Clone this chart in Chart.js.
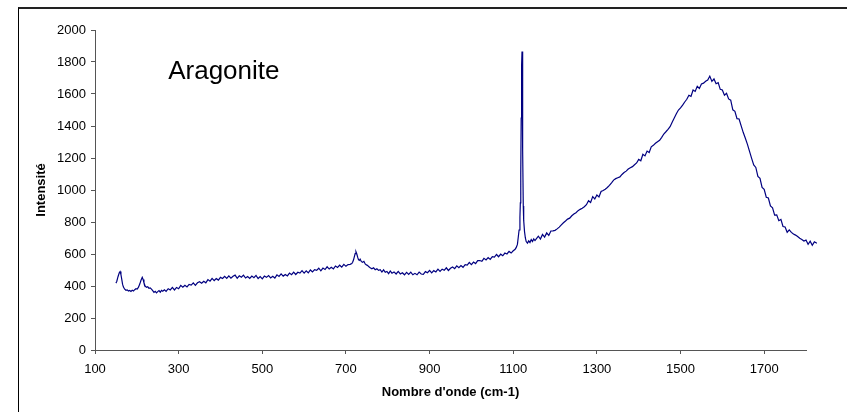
<!DOCTYPE html>
<html><head><meta charset="utf-8">
<script src="https://cdn.jsdelivr.net/npm/chart.js@4"></script>
<style>
html,body{margin:0;padding:0;background:#fff;overflow:hidden}
#wrap{position:relative;width:847px;height:412px;overflow:hidden}
#frame{position:absolute;left:18px;top:7px;width:900px;height:500px;border-top:2px solid #222;border-left:1px solid #000;box-sizing:border-box}
canvas{position:absolute;left:0;top:0}
</style></head><body>
<div id="wrap"><div id="frame"></div><canvas id="c" width="847" height="412"></canvas></div>
<script>
// Spectrum (wavenumber in cm-1, intensity)
const waveA = [150,152,155,158,160,162,164,166,168,171,174,177,180,183,186,189,192,195,198,201,204,207,210,213,215,217,220,223,226,229,232,235,238,241,244,247,250,253,256,259,262,266];
const intA  = [418,428,458,482,490,472,442,410,393,380,373,376,369,372,366,374,369,377,383,381,393,412,436,454,441,420,399,392,395,386,388,380,371,360,367,357,365,371,361,373,367,376];

const waveB = [270,275,280,285,290,295,300,305,310,315,320,325,330,335,340,345,350,355,360,365,370,375,380,385,390,395,400,405,410,415,420,425,430,435,440,445,450,455,460,465,470,475,480,485,490,495,500,505,510,515,520,525,530,535,540,545,550,555,560,565,570,575,580,585,590,595,600,605,610,615,620,625,630,635,640,645,650,655,660,665,670,675,680,685,690,695,700,705,710,714];
const intB  = [366,383,375,391,375,391,383,404,392,405,
               394,410,406,420,404,420,427,417,430,420,
               440,430,448,434,446,437,454,447,461,448,
               463,449,461,468,448,464,455,468,450,459,
               447,462,452,466,447,459,445,462,454,465,
               450,461,450,470,460,476,462,472,463,481,
               471,487,472,486,481,496,481,495,482,500,
               488,502,498,511,495,512,503,520,506,517,
               507,525,516,530,518,535,523,534,535,540];

const waveC = [716,718,720,722,724,726,728,730,732,734,737,740,743,746,749,752,755,758,762,766,770,774,778];
const intC  = [548,562,582,602,614,600,580,565,560,568,552,548,554,538,532,528,520,514,508,514,502,508,498];

const waveD = [782,786,790,794,798,802,806,810,815,820,825,830,835,840,845,850,855,860,865,870,875,880,885,890,895,900,905,910,915,920,925,930,935,940,945,950,955,960,965,970,975,980,985,990,995,1000,1005,1010,1015,1020,1025,1030,1035,1040,1045,1050,1055,1060,1065,1070,1075,1080,1085,1090,1095,1100,1104];
const intD  = [502,487,501,486,491,477,494,480,488,475,
               491,475,483,470,485,473,487,470,479,470,
               487,475,473,490,483,498,482,496,488,505,
               491,505,498,514,497,511,519,508,526,515,
               528,517,533,530,547,534,550,540,559,559,
               554,573,563,578,566,583,581,597,583,599,
               589,606,600,616,606,620,628];

const waveE = [1107,1110,1112,1114,1116,1117,1118,1119,1120,1121,1122,1123,1124,1125,1127,1129,1131,1134,1137,1140,1143,1146,1149,1152,1156];
const intE  = [640,660,705,750,830,920,1100,1450,1780,1865,1650,1250,900,810,740,700,678,668,682,672,690,678,694,684,698];

const waveF = [1160,1165,1170,1175,1180,1185,1190,1195,1200,1205,
               1210,1215,1220,1225,1230,1235,1240,1245,1250,1255,
               1260,1265,1270,1275,1280,1285,1290,1295,1300,1305,
               1310,1315,1320,1325,1330,1335,1340,1345,1350,1355,
               1360,1365,1370,1375,1380,1385,1390,1395,1400,1405,
               1410,1415,1420,1425,1430,1435,1440,1445,1450,1455,
               1460,1465,1470,1475,1480,1485,1490,1495,1500,1505,
               1510,1515,1520,1525,1530,1535,1540,1545,1550,1555,
               1560,1565,1570,1575,1580,1585,1590,1595,1600,1605,
               1610,1615,1620,1625,1630,1635,1640,1645,1650,1655,
               1660,1665,1670,1675,1680,1685,1690,1695,1700,1705,
               1710,1715,1720,1725,1730,1735,1740,1745,1750,1755,
               1760,1765,1770,1775,1780,1785,1790,1795,1800,1805,
               1810,1815,1820,1826];
const intF  = [711,693,722,706,732,716,744,745,748,757,
               768,782,795,806,818,824,839,850,858,871,
               879,886,895,908,933,922,959,944,969,957,
               991,997,1005,1016,1029,1045,1062,1071,1077,1082,
               1097,1109,1118,1131,1139,1146,1158,1169,1191,1183,
               1223,1213,1243,1234,1270,1279,1292,1302,1311,1329,
               1350,1364,1379,1396,1424,1450,1477,1500,1513,1530,
               1550,1567,1592,1585,1625,1616,1648,1635,1663,1668,
               1679,1687,1712,1679,1694,1664,1671,1629,1625,1593,
               1605,1569,1561,1501,1492,1446,1444,1401,1359,1323,
               1285,1241,1198,1157,1141,1085,1073,1016,1004,955,
               950,900,888,843,845,808,816,772,769,736,
               751,735,725,718,709,698,691,681,687,661,
               680,655,676,667];

const xTickValues = [100,300,500,700,900,1100,1300,1500,1700];
const yTickValues = [0,200,400,600,800,1000,1200,1400,1600,1800,2000];
const xRange = [100, 1800];
const yRange = [0, 2000];
const xTitle = "Nombre d'onde (cm-1)";
const yTitle = "Intensité";
const sampleName = "Aragonite";
const sampleAnchor = {x: 275, y: 1692};

const wavenumbers = [].concat(waveA, waveB, waveC, waveD, waveE, waveF);
const intensities = [].concat(intA, intB, intC, intD, intE, intF);
const points = wavenumbers.map((x, i) => ({x: x, y: intensities[i]}));

const FONT = '"Liberation Sans", Arial, sans-serif';

const sampleLabel = {
  id: 'sampleLabel',
  afterDatasetsDraw(chart) {
    const {ctx, scales} = chart;
    ctx.save();
    ctx.font = '26px ' + FONT;
    ctx.fillStyle = '#000';
    ctx.textBaseline = 'alphabetic';
    ctx.textAlign = 'left';
    ctx.fillText(sampleName, scales.x.getPixelForValue(sampleAnchor.x), scales.y.getPixelForValue(sampleAnchor.y));
    ctx.restore();
  }
};

new Chart(document.getElementById('c'), {
  type: 'scatter',
  data: {
    datasets: [{
      data: points,
      showLine: true,
      borderColor: '#000080',
      backgroundColor: '#000080',
      borderWidth: 1.2,
      pointRadius: 0,
      pointHoverRadius: 0,
      tension: 0,
      fill: false,
      clip: false
    }]
  },
  options: {
    responsive: false,
    animation: false,
    devicePixelRatio: 1,
    events: [],
    layout: {padding: {left: 0, top: 30, right: 41, bottom: 0}},
    plugins: {legend: {display: false}, tooltip: {enabled: false}},
    scales: {
      x: {
        type: 'linear',
        bounds: 'data',
        afterDataLimits: s => { s.min = xRange[0]; s.max = xRange[1]; },
        afterBuildTicks: s => { s.ticks = xTickValues.map(v => ({value: v})); },
        afterFit: s => { s.height = 62; },
        ticks: {color: '#000', font: {family: FONT, size: 13}, padding: 8, maxRotation: 0, autoSkip: false, callback: v => String(v)},
        grid: {display: true, drawOnChartArea: false, drawTicks: true, tickLength: 4, color: '#555', lineWidth: 1},
        border: {display: true, color: '#555', width: 1},
        title: {display: true, text: xTitle, color: '#000', font: {family: FONT, size: 13, weight: 'bold'}, padding: {top: 0, bottom: 12}}
      },
      y: {
        type: 'linear',
        min: yRange[0], max: yRange[1],
        afterBuildTicks: s => { s.ticks = yTickValues.map(v => ({value: v})); },
        afterFit: s => { s.width = 95; },
        ticks: {color: '#000', font: {family: FONT, size: 13}, padding: 5, autoSkip: false, callback: v => String(v)},
        grid: {display: true, drawOnChartArea: false, drawTicks: true, tickLength: 4, color: '#555', lineWidth: 1},
        border: {display: true, color: '#555', width: 1},
        title: {display: true, text: yTitle, color: '#000', font: {family: FONT, size: 13, weight: 'bold'}, padding: {top: 34, bottom: 0}}
      }
    }
  },
  plugins: [sampleLabel]
});
</script>
</body></html>
